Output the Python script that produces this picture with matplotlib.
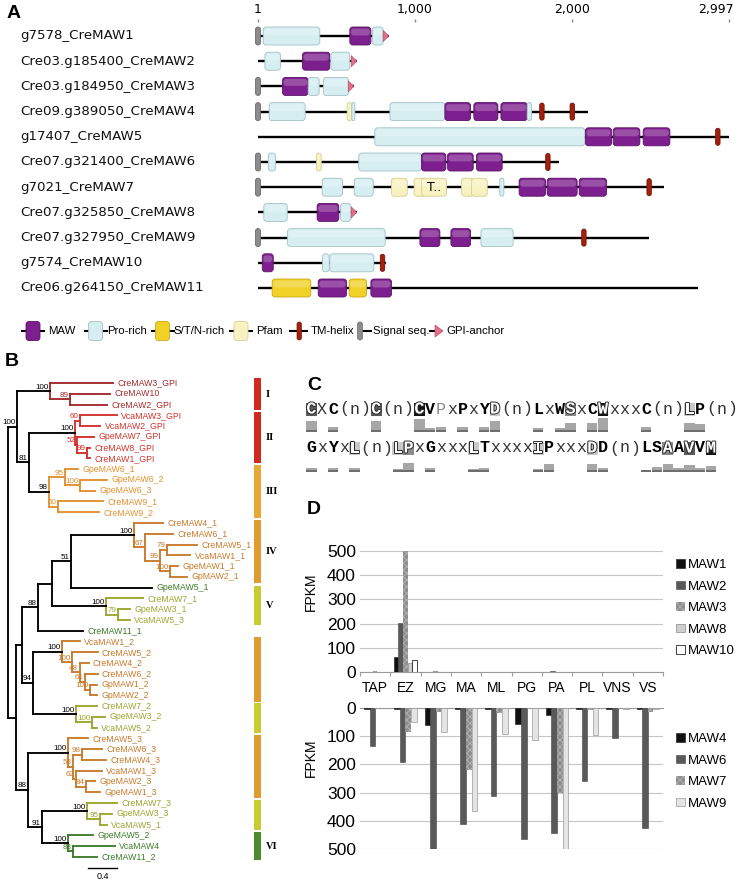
import matplotlib
matplotlib.use("Agg")
import matplotlib.pyplot as plt
import matplotlib.patheffects as pe
import matplotlib.transforms as mtransforms
from matplotlib.patches import FancyBboxPatch, Rectangle, Polygon, Patch
import numpy as np

plt.rcParams['hatch.linewidth'] = 0.6

FIG_W, FIG_H = 736, 882
SANS = ['Liberation Sans', 'DejaVu Sans']

# ---------------- A: domain architecture (residue positions) ----------------
protein_names = ['g7578_CreMAW1', 'Cre03.g185400_CreMAW2', 'Cre03.g184950_CreMAW3',
                 'Cre09.g389050_CreMAW4', 'g17407_CreMAW5', 'Cre07.g321400_CreMAW6',
                 'g7021_CreMAW7', 'Cre07.g325850_CreMAW8', 'Cre07.g327950_CreMAW9',
                 'g7574_CreMAW10', 'Cre06.g264150_CreMAW11']
protein_lengths = [835, 632, 613, 2097, 2997, 1917, 2585, 632, 2485, 818, 2801]
has_signal = [True, False, True, True, False, True, True, False, True, False, False]
has_gpi = [True, True, True, False, False, False, False, True, False, False, False]
tm_helices = [[], [], [], [1807, 2000], [2926], [1845], [2489], [], [2074], [793], []]
domains = [
    [('pro', 34, 394), ('maw', 585, 719), ('pro', 729, 797)],
    [('pro', 45, 144), ('maw', 284, 458), ('pro', 464, 585)],
    [('maw', 157, 320), ('pro', 320, 390), ('pro', 416, 577)],
    [('pro', 72, 301), ('pfam', 568, 598), ('pro', 598, 617), ('pro', 840, 1190),
     ('maw', 1190, 1353), ('maw', 1374, 1527), ('maw', 1546, 1713), ('pro', 1713, 1741)],
    [('pro', 744, 2080), ('maw', 2084, 2250), ('maw', 2260, 2430), ('maw', 2451, 2621)],
    [('pro', 66, 112), ('pfam', 373, 403), ('pro', 642, 1041), ('maw', 1041, 1196),
     ('maw', 1207, 1370), ('maw', 1391, 1554)],
    [('pro', 409, 539), ('pro', 613, 734), ('pfam', 850, 950), ('pfam', 994, 1073),
     ('pfam', 1041, 1200), ('pfam', 1296, 1370), ('pfam', 1359, 1459), ('pro', 1539, 1565),
     ('maw', 1662, 1830), ('maw', 1840, 2031), ('maw', 2044, 2218)],
    [('pro', 38, 187), ('maw', 377, 515), ('pro', 526, 592)],
    [('pro', 189, 810), ('maw', 1031, 1158), ('maw', 1228, 1353), ('pro', 1419, 1624)],
    [('maw', 28, 98), ('pro', 411, 454), ('pro', 458, 738)],
    [('stn', 91, 337), ('maw', 384, 564), ('stn', 581, 691), ('maw', 719, 850)],
]
domain_notes = {(6, 4): 'T..'}
scale_ticks = [1, 1000, 2000, 2997]
legend_labels = ['MAW', 'Pro-rich', 'S/T/N-rich', 'Pfam', 'TM-helix', 'Signal seq.', 'GPI-anchor']

DOMAIN_FC = {'maw': '#7d1f8e', 'pro': '#d6eef1', 'stn': '#f1d128', 'pfam': '#f7f2c0'}
DOMAIN_EC = {'maw': '#5a1466', 'pro': '#a2c1c6', 'stn': '#c9a914', 'pfam': '#d5cd94'}
SIGNAL_C = ('#8c8c8c', '#6a6a6a')
TM_C = ('#a3200e', '#761406')
GPI_C = ('#e2708c', '#bf4f6c')

# ---------------- B: phylogeny (branch lengths, bootstrap) ----------------
tree_newick = (
    "(((CreMAW3_GPI:0.875,(CreMAW10:0.555,CreMAW2_GPI:0.515)89:0.28)100:0.46,"
    "(((VcaMAW3_GPI:0.515,VcaMAW2_GPI:0.28)60:0.07,(GpeMAW7_GPI:0.235,"
    "(CreMAW8_GPI:0.04,CreMAW1_GPI:0.04)99:0.14)52:0.03)100:0.64,"
    "((GpeMAW6_1:0.18,(GpeMAW6_2:0.375,GpeMAW6_3:0.21)100:0.21)95:0.22,"
    "(CreMAW9_1:0.625,CreMAW9_2:0.57)60:0.125)98:0.28)81:0.165)100:0.125,"
    "((((((CreMAW4_1:0.40,(CreMAW6_1:0.39,((CreMAW5_1:0.415,VcaMAW1_1:0.32)79:0.10,"
    "(GpeMAW1_1:0.11,GpMAW2_1:0.235)100:0.14)99:0.21)67:0.15)100:0.875,"
    "GpeMAW5_1:1.125)51:0.265,(CreMAW7_1:0.515,(GpeMAW3_1:0.165,VcaMAW5_3:0.165)79:0.165)100:0.75):0.195,"
    "CreMAW11_1:0.625)88:0.22,((VcaMAW1_2:0.25,(CreMAW5_2:0.35,(CreMAW4_2:0.125,"
    "(CreMAW6_2:0.18,(GpMAW1_2:0.10,GpMAW2_2:0.10)100:0.07)61:0.07)48:0.10)100:0.15)100:0.40,"
    "(CreMAW7_2:0.29,(GpeMAW3_2:0.18,VcaMAW5_2:0.07)100:0.22)100:0.60)94:0.15):0.085,"
    "((CreMAW5_3:0.28,((CreMAW6_3:0.28,CreMAW4_3:0.335)98:0.125,(VcaMAW1_3:0.36,"
    "(GpeMAW2_3:0.125,GpeMAW1_3:0.195)84:0.14)62:0.04)58:0.07)100:0.555,"
    "((CreMAW7_3:0.415,(GpeMAW3_3:0.165,VcaMAW5_1:0.10)95:0.18)100:0.625,"
    "(GpeMAW5_2:0.35,(VcaMAW4:0.585,CreMAW11_2:0.335)83:0.07)100:0.36)91:0.195)88:0.165):0.11);"
)
RED_D, RED, ORG_L, ORG, OLIVE, GREEN = '#a32a2c', '#d3322b', '#e3902e', '#c97a2b', '#9aa630', '#3e7c2a'
tree_clades = [
    ('CreMAW3_GPI', 'CreMAW2_GPI', RED_D), ('VcaMAW3_GPI', 'CreMAW1_GPI', RED),
    ('GpeMAW6_1', 'CreMAW9_2', ORG_L), ('CreMAW4_1', 'GpMAW2_1', ORG),
    ('CreMAW7_1', 'VcaMAW5_3', OLIVE), ('VcaMAW1_2', 'GpMAW2_2', ORG),
    ('CreMAW7_2', 'VcaMAW5_2', OLIVE), ('CreMAW5_3', 'GpeMAW1_3', ORG),
    ('CreMAW7_3', 'VcaMAW5_1', OLIVE), ('GpeMAW5_2', 'CreMAW11_2', GREEN),
]
extra_label_colors = {'GpeMAW5_1': GREEN, 'CreMAW11_1': GREEN}
# group bars beside the tree, in leaf-row units
group_bars = [(-0.46, 2.51, '#d1291f', 'I'), (2.69, 7.43, '#d1291f', 'II'),
              (7.61, 12.53, '#e8a838', 'III'), (12.72, 18.57, '#e19b2f', 'IV'),
              (18.85, 22.47, '#c8cb33', 'V'), (23.58, 29.62, '#e19b2f', ''),
              (29.71, 32.50, '#c8cb33', ''), (32.68, 38.53, '#e19b2f', ''),
              (38.71, 41.50, '#c8cb33', ''), (41.69, 44.29, '#4b8a2e', 'VI')]
scale_bar_length = 0.4

# ---------------- C: conserved motif ----------------
motif_rows = ["CXC(n)C(n)CVPxPxYD(n)LxWSxCWxxxC(n)LP(n)",
              "GxYxL(n)LPxGxxxLTxxxxIPxxxDD(n)LSAAVVM"]
# k black box, d dark box, m mid box, l light box, b bold, n normal, g grey letter
motif_styles = ["dnbnnndnnnkbgnbnblnnnbnbmnbknnnbnnnlbnnn",
                "bnbnlnnnlmnbnnnlbnnnnlbnnnlbnnnbbmbdbk"]
cons_pos_1 = [0, 2, 6, 10, 11, 12, 14, 16, 17, 21, 23, 24, 26, 27, 31, 35, 36]
cons_val_1 = [0.79, 0.36, 0.79, 0.93, 0.29, 0.36, 0.36, 0.36, 0.79, 0.29, 0.29, 0.64, 0.64, 1.0, 0.36, 0.64, 0.57]
cons_pos_2 = [0, 2, 4, 8, 9, 11, 15, 16, 21, 22, 26, 27, 31, 32, 33, 34, 35, 36, 37]
cons_val_2 = [0.29, 0.29, 0.29, 0.21, 0.64, 0.29, 0.21, 0.29, 0.21, 0.57, 0.57, 0.29, 0.14, 0.36, 0.57, 0.29, 0.5, 0.29, 0.43]

# ---------------- D: expression (FPKM) ----------------
tissues = ['TAP', 'EZ', 'MG', 'MA', 'ML', 'PG', 'PA', 'PL', 'VNS', 'VS']
fpkm_maw1 = [0.5, 62, 0.5, 0.3, 0.3, 0.3, 0.3, 0.3, 0.3, 0.3]
fpkm_maw2 = [1, 203, 1, 0.5, 0.5, 0.5, 3, 0.5, 0.5, 0.5]
fpkm_maw3 = [3, 560, 3, 1, 1, 1, 2, 1, 1, 1]
fpkm_maw8 = [1, 37, 1, 0.5, 0.5, 0.5, 0.5, 0.5, 0.5, 0.5]
fpkm_maw10 = [0.5, 50, 0.5, 0.3, 0.3, 0.3, 0.3, 0.3, 0.3, 0.3]
fpkm_maw4 = [2, 3, 62, 3, 5, 55, 25, 5, 5, 3]
fpkm_maw6 = [133, 190, 560, 410, 312, 463, 443, 258, 106, 425]
fpkm_maw7 = [2, 85, 14, 221, 19, 5, 303, 8, 3, 14]
fpkm_maw9 = [1, 50, 85, 366, 91, 115, 560, 97, 2, 2]

BAR_STYLE = {
    'black': dict(facecolor='#111111', edgecolor='#111111', linewidth=0.4),
    'dark': dict(facecolor='#595959', edgecolor='#444444', linewidth=0.4),
    'hatch': dict(facecolor='#8e8e8e', edgecolor='#b4b4b4', linewidth=0, hatch='xxxxx'),
    'light': dict(facecolor='#cfcfcf', edgecolor='#8a8a8a', linewidth=0.5),
    'white': dict(facecolor='white', edgecolor='#222222', linewidth=0.6),
    'paler': dict(facecolor='#e4e4e4', edgecolor='#9a9a9a', linewidth=0.5),
}


def px_axes(fig, x0, y0, x1, y1):
    ax = fig.add_axes([x0 / FIG_W, 1 - y1 / FIG_H, (x1 - x0) / FIG_W, (y1 - y0) / FIG_H])
    ax.set_facecolor('none')
    return ax


def rbox(ax, x0, x1, yc, h, fc, ec, r, asp, lw=0.6, z=3, **kw):
    w = x1 - x0
    r = min(r, w / 2, h / (2 * asp))
    ax.add_patch(FancyBboxPatch((x0, yc - h / 2), w, h,
                                boxstyle=f"round,pad=0,rounding_size={r:.5f}",
                                mutation_aspect=asp, fc=fc, ec=ec, lw=lw, zorder=z, **kw))


fig = plt.figure(figsize=(FIG_W / 100, FIG_H / 100), dpi=100)
canvas = fig.add_axes([0, 0, 1, 1])
canvas.set_xlim(0, FIG_W)
canvas.set_ylim(FIG_H, 0)
canvas.axis('off')

for letter, (lx, ly) in zip('ABCD', [(7, 13), (5, 362), (307, 385), (307, 510)]):
    canvas.text(lx, ly, letter, fontsize=14, weight='bold', family=SANS, va='center', ha='left')

# ---------------- panel A ----------------
AA_PX = (729 - 258) / (2997 - 1)
ROW_Y0, ROW_DY = 36, 25.2
ax_a = px_axes(fig, 250, 22, 736, 302)
ax_a.set_xlim(1 - 8 / AA_PX, 1 + (736 - 258) / AA_PX)
ax_a.set_ylim((302 - ROW_Y0) / ROW_DY, (22 - ROW_Y0) / ROW_DY)
asp = AA_PX / ROW_DY
r3 = 3 / AA_PX
bh = 18 / ROW_DY

for i, name in enumerate(protein_names):
    L = protein_lengths[i]
    ax_a.plot([1, L], [i, i], color='black', lw=1.7, solid_capstyle='butt', zorder=1)
    ax_a.text((20 - 250) / (736 - 250), i, name, transform=ax_a.get_yaxis_transform(),
              fontsize=9.6, family='DejaVu Sans', va='center', ha='left', color='#111')
    for j, (kind, s, e) in enumerate(domains[i]):
        rbox(ax_a, s, e, i, bh, DOMAIN_FC[kind], DOMAIN_EC[kind], r3, asp)
        # soft highlight on the upper half for the glossy look
        rbox(ax_a, s + 1 / AA_PX, e - 1 / AA_PX, i - bh * 0.22, bh * 0.38, 'white', 'none',
             r3, asp, lw=0, z=4, alpha=0.22)
        if (i, j) in domain_notes:
            ax_a.text((s + e) / 2, i, domain_notes[(i, j)], fontsize=9, ha='center',
                      va='center', family='DejaVu Sans', zorder=5)
    if has_signal[i]:
        rbox(ax_a, 1 - 2.5 / AA_PX, 1 + 2.5 / AA_PX, i, bh, SIGNAL_C[0], SIGNAL_C[1], 2.5 / AA_PX, asp, z=5)
    for t in tm_helices[i]:
        rbox(ax_a, t - 2.2 / AA_PX, t + 2.2 / AA_PX, i, bh * 0.95, TM_C[0], TM_C[1], 2.2 / AA_PX, asp, z=5)
    if has_gpi[i]:
        ax_a.add_patch(Polygon([(L - 38, i - 0.22), (L - 38, i + 0.22), (L - 3, i)], closed=True,
                               fc=GPI_C[0], ec=GPI_C[1], lw=0.5, zorder=5))

ax_a.set_xticks(scale_ticks, labels=[f"{t:,}" for t in scale_ticks])
ax_a.xaxis.tick_top()
ax_a.tick_params(axis='x', length=2.5, width=1.0, color='#888', pad=1.5, labelsize=9)
for lab in ax_a.get_xticklabels():
    lab.set_family('DejaVu Sans')
last = ax_a.get_xticklabels()[-1]
last.set_horizontalalignment('right')
last.set_transform(last.get_transform() + mtransforms.ScaledTranslation(5 / 100, 0, fig.dpi_scale_trans))
ax_a.set_yticks([])
for sp in ax_a.spines.values():
    sp.set_visible(False)

# legend of panel A (pixel layout on the canvas)
LY = 331
sym_x = [33, 95.5, 162.5, 241, 299, 360, 437]
txt_x = [48, 107, 173, 256, 311, 373, 446]
leg_kinds = ['maw', 'pro', 'stn', 'pfam']
for k, kind in enumerate(leg_kinds):
    cx = sym_x[k]
    canvas.plot([cx - 11, cx + 11], [LY, LY], color='black', lw=1.5, zorder=2)
    canvas.add_patch(FancyBboxPatch((cx - 7, LY - 9.5), 14, 19, boxstyle="round,pad=0,rounding_size=3",
                                    fc=DOMAIN_FC[kind], ec=DOMAIN_EC[kind], lw=0.6, zorder=3))
canvas.plot([290, 307], [LY, LY], color='black', lw=1.5, zorder=2)
canvas.add_patch(FancyBboxPatch((297, LY - 9), 4.4, 18, boxstyle="round,pad=0,rounding_size=2.2",
                                fc=TM_C[0], ec=TM_C[1], lw=0.5, zorder=3))
canvas.plot([361, 371], [LY, LY], color='black', lw=1.5, zorder=2)
canvas.add_patch(FancyBboxPatch((357.5, LY - 9), 5, 18, boxstyle="round,pad=0,rounding_size=2.5",
                                fc=SIGNAL_C[0], ec=SIGNAL_C[1], lw=0.5, zorder=3))
canvas.plot([430, 438], [LY, LY], color='black', lw=1.5, zorder=2)
canvas.add_patch(Polygon([(435, LY - 6), (435, LY + 6), (443, LY)], closed=True,
                         fc=GPI_C[0], ec=GPI_C[1], lw=0.5, zorder=3))
for k, lab in enumerate(legend_labels):
    canvas.text(txt_x[k], LY, lab, fontsize=8.2, family=SANS, va='center', ha='left')

# ---------------- panel B ----------------
def parse_newick(s):
    pos = 0

    def node(parent):
        nonlocal pos
        nd = {'children': [], 'parent': parent}
        if s[pos] == '(':
            pos += 1
            while True:
                nd['children'].append(node(nd))
                if s[pos] == ',':
                    pos += 1
                    continue
                pos += 1
                break
        st = pos
        while s[pos] not in ':,();':
            pos += 1
        nd['label'] = s[st:pos]
        nd['length'] = 0.0
        if s[pos] == ':':
            pos += 1
            st = pos
            while s[pos] not in ',();':
                pos += 1
            nd['length'] = float(s[st:pos])
        return nd

    return node(None)


root = parse_newick(tree_newick)
all_nodes, leaves = [], []


def layout(nd, x0):
    nd['x'] = x0 + nd['length']
    all_nodes.append(nd)
    if not nd['children']:
        nd['y'] = len(leaves)
        leaves.append(nd)
        nd['leafset'] = {nd['label']}
    else:
        for c in nd['children']:
            layout(c, nd['x'])
        nd['y'] = (nd['children'][0]['y'] + nd['children'][-1]['y']) / 2
        nd['leafset'] = set().union(*[c['leafset'] for c in nd['children']])


root['length'] = 0.0
layout(root, 0.0)


def paint(nd, color):
    nd['color'] = color
    for c in nd['children']:
        paint(c, color)


for a, b, col in tree_clades:
    mrca = min((n for n in all_nodes if a in n['leafset'] and b in n['leafset']),
               key=lambda n: len(n['leafset']))
    paint(mrca, col)

TX0, TX_SCALE = 8, 72.0
LEAF_Y0, LEAF_DY = 383, 10.77
ax_b = px_axes(fig, 0, 370, 300, 882)
ax_b.set_xlim(-TX0 / TX_SCALE, (300 - TX0) / TX_SCALE)
ax_b.set_ylim((882 - LEAF_Y0) / LEAF_DY, (370 - LEAF_Y0) / LEAF_DY)
ax_b.axis('off')
TLW = 1.35
for nd in all_nodes:
    cv = nd.get('color', 'black')
    if nd['children']:
        ax_b.plot([nd['x'], nd['x']], [nd['children'][0]['y'], nd['children'][-1]['y']],
                  color=cv, lw=TLW, solid_capstyle='projecting', zorder=2)
    if nd['parent'] is not None:
        ch = nd['parent'].get('color', 'black')
        ax_b.plot([nd['parent']['x'], nd['x']], [nd['y'], nd['y']], color=ch, lw=TLW,
                  solid_capstyle='projecting', zorder=2)
        if nd['children'] and nd['label']:
            ax_b.annotate(nd['label'], (nd['x'], nd['y']), xytext=(-1.0, 0.4),
                          textcoords='offset points', ha='right', va='bottom',
                          fontsize=5.8, family=SANS, color=ch, zorder=3)
    if not nd['children']:
        lc = extra_label_colors.get(nd['label'], nd.get('color', 'black'))
        ax_b.text(nd['x'] + 0.06, nd['y'], nd['label'], fontsize=6.3, family=SANS,
                  color=lc, va='center', ha='left')

for y0, y1, col, lab in group_bars:
    ax_b.add_patch(Rectangle(((254 - TX0) / TX_SCALE, y0), 7 / TX_SCALE, y1 - y0, fc=col, ec='none'))
    if lab:
        ax_b.text((266 - TX0) / TX_SCALE, (y0 + y1) / 2, lab, fontsize=7.5, weight='bold',
                  family=['Liberation Serif', 'DejaVu Serif'], va='center', ha='left')

sb_x0 = (88 - TX0) / TX_SCALE
sb_y = (868 - LEAF_Y0) / LEAF_DY
ax_b.plot([sb_x0, sb_x0 + scale_bar_length], [sb_y, sb_y], color='black', lw=1.0)
ax_b.text(sb_x0 + scale_bar_length / 2, sb_y + 0.35, f"{scale_bar_length}", fontsize=6.5,
          family=SANS, ha='center', va='top')

# ---------------- panel C ----------------
CH_PX, CH_X0 = 10.8, 306
ax_c = px_axes(fig, 300, 395, 736, 478)
ax_c.set_xlim((300 - CH_X0) / CH_PX, (736 - CH_X0) / CH_PX)
ax_c.set_ylim(0, 83)
ax_c.axis('off')
text_y = [69, 30]
bar_base = [46, 6]
BOX_C = {'k': '#141414', 'd': '#5a5a5a', 'm': '#8c8c8c', 'l': '#c9c9c9'}
for r, (seq, sty) in enumerate(zip(motif_rows, motif_styles)):
    for i, (ch, st) in enumerate(zip(seq, sty)):
        kw = dict(ha='center', va='center', fontsize=12, family=['Liberation Mono', 'DejaVu Sans Mono'])
        if st in BOX_C:
            ax_c.add_patch(Rectangle((i, text_y[r] - 6.5), 1, 13, fc=BOX_C[st], ec='none', zorder=1))
            ax_c.text(i + 0.5, text_y[r], ch, color='white', weight='bold', zorder=2,
                      path_effects=[pe.withStroke(linewidth=1.4, foreground='#2a2a2a')], **kw)
        elif st == 'b':
            ax_c.text(i + 0.5, text_y[r], ch, color='black', weight='bold', zorder=2, **kw)
        elif st == 'g':
            ax_c.text(i + 0.5, text_y[r], ch, color='#8a8a8a', zorder=2, **kw)
        else:
            ax_c.text(i + 0.5, text_y[r], ch, color='#333333', zorder=2, **kw)

for r, (pos, val) in enumerate([(cons_pos_1, cons_val_1), (cons_pos_2, cons_val_2)]):
    pos = np.array(pos)
    val = np.array(val) * 14
    ax_c.bar(pos + 0.5, val, width=0.96, bottom=bar_base[r], color='#a6a6a6', edgecolor='none', zorder=1)
    ax_c.bar(pos + 0.5, np.minimum(val, 2.2), width=0.96, bottom=bar_base[r], color='#6e6e6e',
             edgecolor='none', zorder=1)

# ---------------- panel D ----------------
ax_top = px_axes(fig, 360, 551, 663, 672)
ax_bot = px_axes(fig, 360, 708, 663, 849)
top_series = [('MAW1', fpkm_maw1, 'black'), ('MAW2', fpkm_maw2, 'dark'), ('MAW3', fpkm_maw3, 'hatch'),
              ('MAW8', fpkm_maw8, 'light'), ('MAW10', fpkm_maw10, 'white')]
bot_series = [('MAW4', fpkm_maw4, 'black'), ('MAW6', fpkm_maw6, 'dark'), ('MAW7', fpkm_maw7, 'hatch'),
              ('MAW9', fpkm_maw9, 'paler')]
xg = np.arange(len(tissues))
for ax, series, frac in [(ax_top, top_series, 0.77), (ax_bot, bot_series, 0.74)]:
    bw = frac / len(series)
    off = (1 - frac) / 2
    handles = []
    for j, (name, vals, st) in enumerate(series):
        ax.bar(xg + off + bw * (j + 0.5), vals, width=bw, zorder=3, **BAR_STYLE[st])
        handles.append(Patch(label=name, **BAR_STYLE[st]))
    ax.set_xlim(0, len(tissues))
    ax.set_yticks(np.arange(0, 501, 100))
    ax.yaxis.grid(True, color='#c6c6c6', lw=0.8, zorder=0)
    ax.set_axisbelow(True)
    ax.tick_params(axis='y', length=0, pad=3, labelsize=12.5)
    for lab in ax.get_yticklabels():
        lab.set_family(SANS)
    for sp in ax.spines.values():
        sp.set_visible(False)
    ax.legend(handles=handles, loc='upper left', frameon=False,
              bbox_to_anchor=((676 - 360) / 303, 0), borderpad=0, borderaxespad=0,
              handlelength=0.65, handleheight=0.65, handletextpad=0.25, labelspacing=0.72,
              prop={'family': SANS, 'size': 9.5})

ax_top.set_ylim(0, 500)
ax_top.spines['bottom'].set_visible(True)
ax_top.spines['bottom'].set_color('#9a9a9a')
ax_top.set_xticks(np.arange(len(tissues) + 1), labels=[])
ax_top.tick_params(axis='x', length=3, color='#9a9a9a', width=0.8)
ax_top.get_legend().set_bbox_to_anchor(((676 - 360) / 303, 1 - (565 - 6 - 551) / 121),
                                       transform=ax_top.transAxes)

ax_bot.set_ylim(500, 0)
ax_bot.spines['top'].set_visible(True)
ax_bot.spines['top'].set_color('#9a9a9a')
ax_bot.xaxis.tick_top()
ax_bot.set_xticks(xg + 0.5, labels=tissues)
ax_bot.tick_params(axis='x', length=0, pad=9, labelsize=10)
for lab in ax_bot.get_xticklabels():
    lab.set_family(SANS)
ax_bot.get_legend().set_bbox_to_anchor(((676 - 360) / 303, 1 - (739 - 6 - 708) / 141),
                                       transform=ax_bot.transAxes)

canvas.text(311, 592, 'FPKM', rotation=90, fontsize=10, family=SANS, ha='center', va='center')
canvas.text(311, 758, 'FPKM', rotation=90, fontsize=10, family=SANS, ha='center', va='center')

fig.savefig('out.png', dpi=100)
